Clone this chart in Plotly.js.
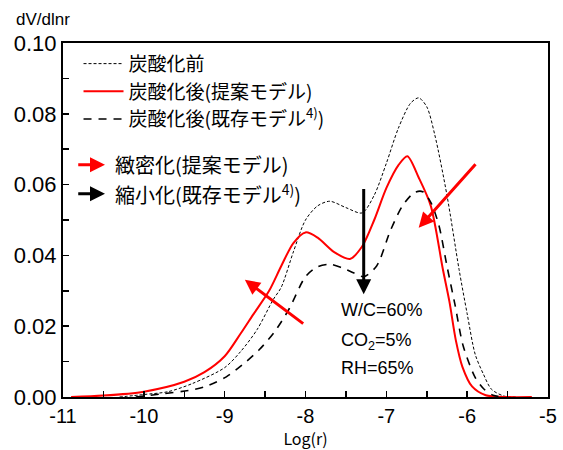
<!DOCTYPE html>
<html>
<head>
<meta charset="utf-8">
<script src="https://cdn.plot.ly/plotly-3.0.1.min.js"></script>
<style>html,body{margin:0;padding:0;background:#fff;}#chart{width:563px;height:450px;}</style>
</head>
<body>
<div id="chart"></div>
<script>
// 炭酸化前 (before carbonation)
const beforeX = [-10.3, -10.0, -9.7, -9.4, -9.0, -8.8, -8.6, -8.4, -8.3, -8.15, -8.0, -7.85, -7.7, -7.5, -7.3, -7.15, -7.0, -6.85, -6.7, -6.6, -6.5, -6.4, -6.25, -6.1, -6.0, -5.9, -5.8, -5.7, -5.55, -5.4];
const beforeY = [0, 0.0007, 0.0015, 0.0038, 0.0083, 0.0129, 0.019, 0.0275, 0.031, 0.041, 0.050, 0.054, 0.0553, 0.0535, 0.052, 0.057, 0.066, 0.076, 0.083, 0.0845, 0.082, 0.074, 0.057, 0.036, 0.0235, 0.012, 0.0065, 0.0022, 0.0003, 0];
// 炭酸化後(提案モデル)
const proposedX = [-10.9, -10.5, -10.0, -9.5, -9.25, -9.0, -8.8, -8.65, -8.45, -8.3, -8.15, -8.0, -7.85, -7.65, -7.45, -7.3, -7.15, -7.0, -6.85, -6.74, -6.6, -6.45, -6.3, -6.22, -6.14, -6.06, -5.94, -5.77, -5.5, -5.2];
const proposedY = [0, 0.0004, 0.0015, 0.0043, 0.007, 0.0115, 0.018, 0.0232, 0.030, 0.037, 0.0435, 0.0465, 0.045, 0.041, 0.039, 0.0425, 0.050, 0.059, 0.0655, 0.068, 0.062, 0.054, 0.036, 0.027, 0.016, 0.0086, 0.003, 0.0005, 0, 0];
// 炭酸化後(既存モデル)
const existingX = [-10.1, -9.8, -9.4, -9.23, -8.98, -8.78, -8.57, -8.38, -8.2, -8.0, -7.85, -7.7, -7.55, -7.4, -7.28, -7.12, -6.95, -6.8, -6.65, -6.55, -6.45, -6.35, -6.25, -6.15, -6.05, -5.9, -5.79, -5.68, -5.55];
const existingY = [0, 0.0008, 0.002, 0.003, 0.0057, 0.0091, 0.0134, 0.0185, 0.025, 0.034, 0.0368, 0.0375, 0.0365, 0.035, 0.034, 0.037, 0.047, 0.054, 0.0578, 0.058, 0.055, 0.0485, 0.037, 0.026, 0.0145, 0.0055, 0.0022, 0.0005, 0];

const seriesNames = ['炭酸化前', '炭酸化後(提案モデル)', '炭酸化後(既存モデル<sup>4)</sup>)'];
const yTickVals = [0, 0.02, 0.04, 0.06, 0.08, 0.10];
const yTickText = ['0.00', '0.02', '0.04', '0.06', '0.08', '0.10'];
const xTickVals = [-11, -10, -9, -8, -7, -6, -5];
const conditions = ['W/C=60%', 'CO<sub>2</sub>=5%', 'RH=65%'];

const JP = '"Noto Sans CJK JP", "Liberation Sans", sans-serif';
const AR = '"Liberation Sans", Arial, sans-serif';

const traces = [
  {x: beforeX, y: beforeY, name: seriesNames[0], mode: 'lines', line: {color: '#000', width: 1, dash: '3px,2px', shape: 'spline', smoothing: 0.8}},
  {x: proposedX, y: proposedY, name: seriesNames[1], mode: 'lines', line: {color: '#ff0000', width: 2, shape: 'spline', smoothing: 0.8}},
  {x: existingX, y: existingY, name: seriesNames[2], mode: 'lines', line: {color: '#000', width: 1.6, dash: '8px,7px', shape: 'spline', smoothing: 0.8}}
];

const annotations = [
  {xref: 'paper', yref: 'paper', x: -0.101, y: 1.035, xanchor: 'left', yanchor: 'bottom', text: 'dV/dlnr', showarrow: false, font: {family: AR, size: 17, color: '#000'}},
  // legend arrows
  {x: -10.48, y: 0.0656, ax: -10.83, ay: 0.0656, xref: 'x', yref: 'y', axref: 'x', ayref: 'y', text: '', showarrow: true, arrowhead: 2, arrowsize: 1, arrowwidth: 3, arrowcolor: '#ff0000', standoff: 0},
  {x: -10.48, y: 0.0574, ax: -10.83, ay: 0.0574, xref: 'x', yref: 'y', axref: 'x', ayref: 'y', text: '', showarrow: true, arrowhead: 2, arrowsize: 1, arrowwidth: 3, arrowcolor: '#000', standoff: 0},
  {x: -10.38, y: 0.0656, xref: 'x', yref: 'y', xanchor: 'left', yanchor: 'middle', text: '緻密化(提案モデル)', showarrow: false, font: {family: JP, size: 20, color: '#000'}},
  {x: -10.38, y: 0.0574, xref: 'x', yref: 'y', xanchor: 'left', yanchor: 'middle', text: '縮小化(既存モデル<sup>4)</sup>)', showarrow: false, font: {family: JP, size: 20, color: '#000'}},
  // in-plot arrows
  {x: -7.28, y: 0.029, ax: -7.28, ay: 0.0592, xref: 'x', yref: 'y', axref: 'x', ayref: 'y', text: '', showarrow: true, arrowhead: 2, arrowsize: 1, arrowwidth: 3, arrowcolor: '#000', standoff: 0},
  {x: -6.60, y: 0.0478, ax: -5.88, ay: 0.0662, xref: 'x', yref: 'y', axref: 'x', ayref: 'y', text: '', showarrow: true, arrowhead: 2, arrowsize: 1, arrowwidth: 3, arrowcolor: '#ff0000', standoff: 0},
  {x: -8.75, y: 0.0331, ax: -8.01, ay: 0.0204, xref: 'x', yref: 'y', axref: 'x', ayref: 'y', text: '', showarrow: true, arrowhead: 2, arrowsize: 1, arrowwidth: 3, arrowcolor: '#ff0000', standoff: 0},
  // conditions
  {x: -7.59, y: 0.0247, xref: 'x', yref: 'y', xanchor: 'left', yanchor: 'middle', text: conditions[0], showarrow: false, font: {family: AR, size: 18, color: '#000'}},
  {x: -7.59, y: 0.0156, xref: 'x', yref: 'y', xanchor: 'left', yanchor: 'middle', text: conditions[1], showarrow: false, font: {family: AR, size: 18, color: '#000'}},
  {x: -7.59, y: 0.0083, xref: 'x', yref: 'y', xanchor: 'left', yanchor: 'middle', text: conditions[2], showarrow: false, font: {family: AR, size: 18, color: '#000'}}
];

const layout = {
  width: 563, height: 450,
  margin: {l: 63, r: 15, t: 43, b: 53},
  paper_bgcolor: '#fff', plot_bgcolor: '#fff',
  showlegend: true,
  legend: {x: 0.032, y: 0.995, xanchor: 'left', yanchor: 'top', bgcolor: 'rgba(0,0,0,0)', font: {family: JP, size: 19, color: '#000'}, itemwidth: 40, tracegroupgap: 0},
  xaxis: {
    range: [-11, -5], showgrid: false, zeroline: false,
    showline: true, linecolor: '#000', linewidth: 2, mirror: true,
    ticks: 'inside', ticklen: 6, tickwidth: 1.5, tickcolor: '#000',
    tickvals: xTickVals, ticktext: xTickVals.map(String),
    minor: {dtick: 0.5, tick0: -11, ticks: 'inside', ticklen: 6, tickwidth: 1.5, tickcolor: '#000'},
    tickfont: {family: AR, size: 20, color: '#000'},
    title: {text: 'Log(r)', font: {family: JP, size: 16, color: '#000'}, standoff: 5}
  },
  yaxis: {
    range: [0, 0.1], showgrid: false, zeroline: false,
    showline: true, linecolor: '#000', linewidth: 2, mirror: true,
    ticks: 'inside', ticklen: 6, tickwidth: 1.5, tickcolor: '#000',
    tickvals: yTickVals, ticktext: yTickText,
    minor: {dtick: 0.01, tick0: 0, ticks: 'inside', ticklen: 6, tickwidth: 1.5, tickcolor: '#000'},
    tickfont: {family: AR, size: 22, color: '#000'}
  },
  annotations: annotations
};

Plotly.newPlot('chart', traces, layout, {staticPlot: true, displayModeBar: false});
</script>
</body>
</html>
